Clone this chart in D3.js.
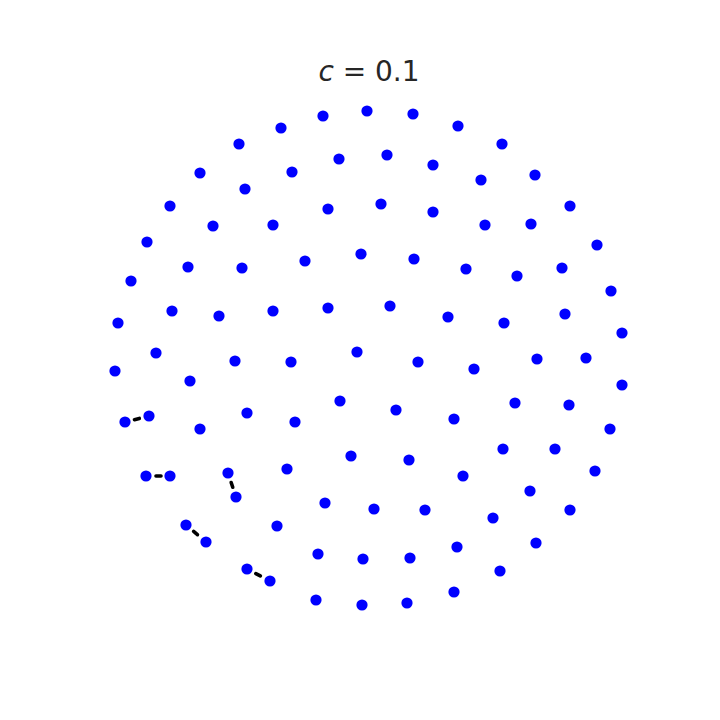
<!DOCTYPE html>
<html>
<head>
<meta charset="utf-8">
<script src="https://cdn.jsdelivr.net/npm/d3@7"></script>
<style>
  html, body { margin: 0; padding: 0; background: #fff; }
  svg { display: block; }
</style>
</head>
<body>
<svg id="chart" width="720" height="720"></svg>
<script>
// Point positions (data units, disk of radius ~1)
const xs = [
  -0.004, -0.18, 0.18, -0.348, 0.36, -0.516, 0.536, -0.116, 0.076, 0.26,
  -0.672, -0.304, 0.452, 0.668, -0.492, -0.792, -0.16, 0.052, 0.26, 0.808,
  -0.62, -0.38, 0.468, 0.652, -0.884, 0.916, -0.028, 0.184, -0.252, -0.72,
  -0.504, 0.392, 0.596, 0.776, -0.948, 0.972, -0.16, 0.088, -0.784, -0.38,
  -0.596, 0.32, 0.544, 0.788, -1.0, 1.016, -0.848, -0.044, -0.532, -0.308,
  0.2, 0.424, 0.676, 0.872, -1.012, -0.712, 1.016, -0.112, 0.112, -0.876,
  -0.972, -0.484, -0.292, 0.344, 0.588, 0.804, -0.672, 0.968, -0.068, 0.164,
  0.54, 0.748, -0.324, -0.56, 0.38, 0.908, -0.888, -0.792, -0.528, 0.648,
  -0.172, 0.024, 0.228, 0.808, 0.5, -0.364, -0.728, -0.648, 0.672, 0.356,
  -0.2, -0.02, 0.168, -0.484, 0.528, -0.392, 0.344, -0.208, -0.024, 0.156
];
const ys = [
  0.988, 0.968, 0.976, 0.92, 0.928, 0.856, 0.856, 0.796, 0.812, 0.772,
  0.74, 0.744, 0.712, 0.732, 0.676, 0.608, 0.596, 0.616, 0.584, 0.608,
  0.528, 0.532, 0.532, 0.536, 0.464, 0.452, 0.416, 0.396, 0.388, 0.364,
  0.36, 0.356, 0.328, 0.36, 0.308, 0.268, 0.2, 0.208, 0.188, 0.188,
  0.168, 0.164, 0.14, 0.176, 0.14, 0.1, 0.02, 0.024, -0.012, -0.016,
  -0.016, -0.044, -0.004, 0.0, -0.052, -0.092, -0.108, -0.172, -0.208, -0.232,
  -0.256, -0.22, -0.256, -0.244, -0.18, -0.188, -0.284, -0.284, -0.392, -0.408,
  -0.364, -0.364, -0.444, -0.46, -0.472, -0.452, -0.472, -0.472, -0.556, -0.532,
  -0.58, -0.604, -0.608, -0.608, -0.64, -0.672, -0.668, -0.736, -0.74, -0.756,
  -0.784, -0.804, -0.8, -0.844, -0.852, -0.892, -0.936, -0.968, -0.988, -0.98
];
// Pairs of point indices joined by dashed segments
const pairFrom = [59, 76, 73, 86, 93];
const pairTo   = [60, 77, 78, 87, 95];
const titleValue = "0.1";

const points = xs.map((x, i) => ({ x: x, y: ys[i] }));
const pairs = pairFrom.map((a, i) => ({ a: points[a], b: points[pairTo[i]] }));

const svg = d3.select("#chart");
const x = d3.scaleLinear().domain([-1, 1]).range([118, 618]);
const y = d3.scaleLinear().domain([-1, 1]).range([608, 108]);

// Title: italic c = 0.1 (mathtext style)
const title = svg.append("text")
  .attr("x", 369)
  .attr("y", 81)
  .attr("text-anchor", "middle")
  .attr("font-family", "DejaVu Sans")
  .attr("font-size", 28)
  .attr("fill", "#262626");
title.append("tspan").attr("font-style", "italic").text("c");
title.append("tspan").text(" = " + titleValue);

// Dashed connecting segments
svg.append("g")
  .selectAll("line")
  .data(pairs)
  .join("line")
  .attr("x1", d => x(d.a.x))
  .attr("y1", d => y(d.a.y))
  .attr("x2", d => x(d.b.x))
  .attr("y2", d => y(d.b.y))
  .attr("stroke", "#000")
  .attr("stroke-width", 3.6)
  .attr("stroke-linecap", "round")
  .attr("stroke-dasharray", "5 9")
  .attr("stroke-dashoffset", 4);

// Points
svg.append("g")
  .selectAll("circle")
  .data(points)
  .join("circle")
  .attr("cx", d => x(d.x))
  .attr("cy", d => y(d.y))
  .attr("r", 5.6)
  .attr("fill", "#0000ff");
</script>
</body>
</html>
